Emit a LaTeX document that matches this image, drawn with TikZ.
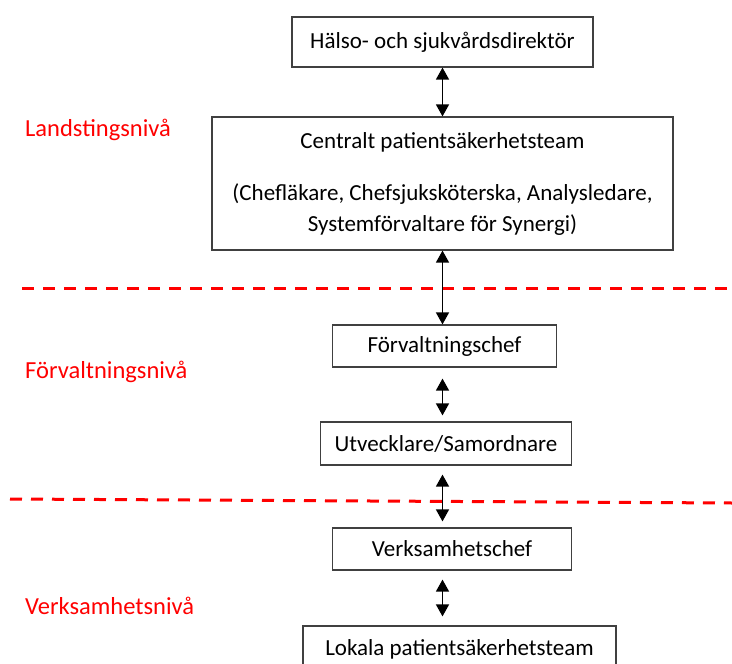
\documentclass[tikz,border=0pt]{standalone}
\usepackage{fontspec}
\setmainfont{Carlito}
\usepackage{tikz}
\usetikzlibrary{arrows.meta}

\begin{document}
\begin{tikzpicture}[x=1pt, y=-1pt,
    font=\fontsize{23}{31}\selectfont,
    box/.style={draw=black!75, line width=1.2pt, fill=white, inner sep=0pt},
    nivå/.style={red, anchor=west, inner sep=0pt, font=\fontsize{24.5}{30}\selectfont},
    gräns/.style={red, line width=3pt, dash pattern=on 12pt off 9pt},
    link/.style={line width=1.5pt, {Triangle[length=12pt, width=13pt]}-{Triangle[length=12pt, width=13pt]}}]

    % 1. Frame of the picture
    \useasboundingbox (0,0) rectangle (732,664);
    \clip (0,0) rectangle (732,664);

    % 2. The boxes, placed at their centres
    \node[box, minimum width=301pt, minimum height=50pt] (dir) at (442.5,42) {Hälso- och sjukvårdsdirektör};
    \node[box, minimum width=461pt, minimum height=133pt, align=center] (central) at (442.5,183.5)
        {Centralt patientsäkerhetsteam\\[21pt]
         (Chefläkare, Chefsjuksköterska, Analysledare,\\
         Systemförvaltare för Synergi)};
    \node[box, minimum width=224pt, minimum height=42pt] (forv) at (444.5,346) {Förvaltningschef};
    \node[box, minimum width=251pt, minimum height=43pt] (utv) at (446,443.5) {Utvecklare/Samordnare};
    \node[box, minimum width=239pt, minimum height=42pt] (verks) at (452,549) {Verksamhetschef};
    \node[box, minimum width=313pt, minimum height=46pt] (lokala) at (459.5,649) {Lokala patientsäkerhetsteam};

    % 3. The levels on the left
    \node[nivå] (landst) at (25,130) {Landstingsnivå};
    \node[nivå] (forvniva) at (25,372) {Förvaltningsnivå};
    \node[nivå] (verksniva) at (25,606) {Verksamhetsnivå};

    % 4. Dashed borders between the levels
    \coordinate (g1a) at (22,288);
    \coordinate (g1b) at (732,288);
    \coordinate (g2a) at (10,499);
    \coordinate (g2b) at (732,503);
    \draw[gräns] (g1a) -- (g1b);
    \draw[gräns] (g2a) -- (g2b);

    % 5. Arrows between the boxes, all on one vertical line
    \draw[link] (dir.south) -- (central.north -| dir.south);
    \draw[link] (central.south -| dir.south) -- (forv.north -| dir.south);
    \draw[link, shorten <=11pt, shorten >=6pt] (forv.south -| dir.south) -- (utv.north -| dir.south);
    \draw[link, shorten <=9pt, shorten >=6pt] (utv.south -| dir.south) -- (verks.north -| dir.south);
    \draw[link, shorten <=9pt, shorten >=9pt] (verks.south -| dir.south) -- (lokala.north -| dir.south);
\end{tikzpicture}
\end{document}
